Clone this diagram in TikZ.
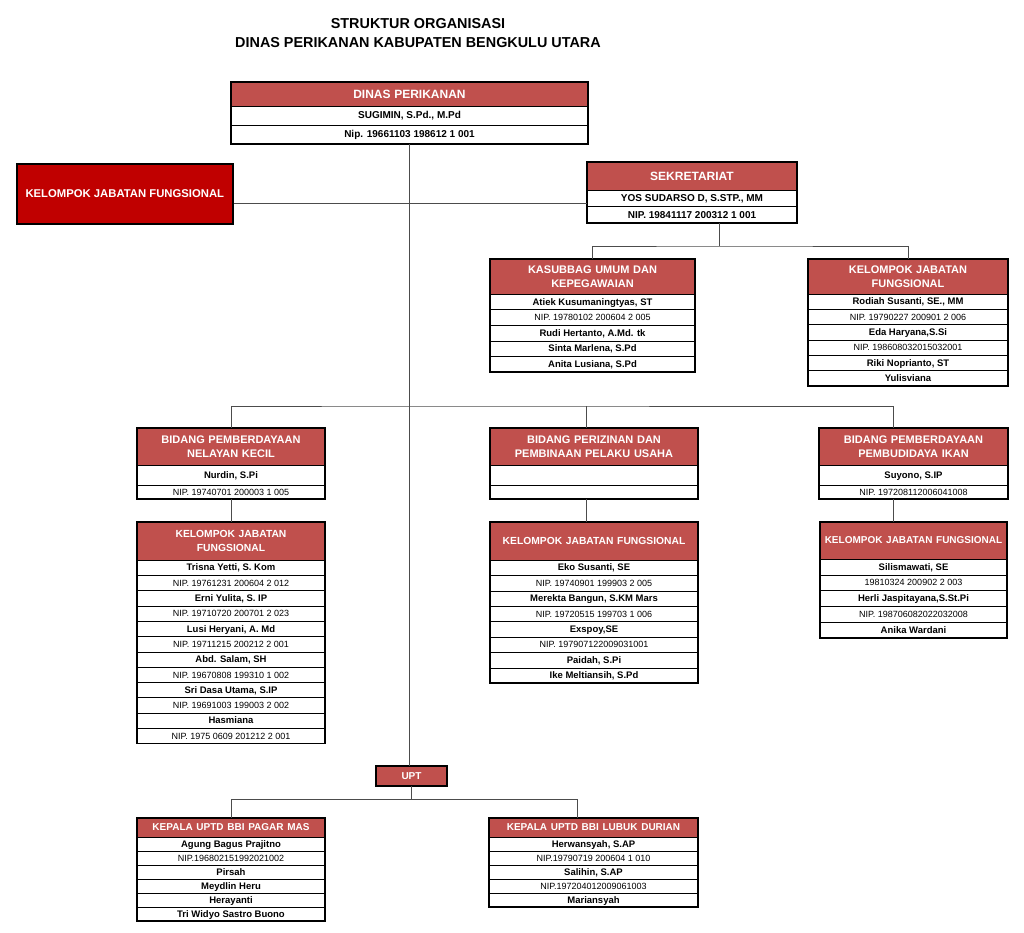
\documentclass[tikz,border=0pt]{standalone}
\usepackage{fontspec}
\setmainfont{Liberation Sans}
\usetikzlibrary{positioning}

\definecolor{headred}{RGB}{192,80,77}
\definecolor{fungred}{RGB}{192,0,0}

\tikzset{
    head/.style={draw, line width=1pt, fill=headred, text=white, align=center,
        inner sep=0pt, outer sep=0pt, font=\fontsize{11}{14}\selectfont\bfseries},
    row/.style={draw, line width=0.6pt, fill=white, inner sep=0pt, outer sep=0pt,
        minimum height=\rowh, text height=7pt, text depth=0.5pt},
    nm/.style={row, font=\fontsize{9.5}{11}\selectfont\bfseries},
    np/.style={row, font=\fontsize{9}{11}\selectfont},
    tp/.style={row, font=\fontsize{10}{12}\selectfont\bfseries},
    nmt/.style={nm, minimum height=20pt},
    nps/.style={np, minimum height=14pt},
    outline/.style={line width=1.6pt},
    link/.style={line width=0.8pt, draw=black!70},
}

\newcommand{\hsz}[1]{\fontsize{#1}{14}\selectfont}
% table: name, corner, width, header height, row height, header, rows
\newcommand{\orgtable}[7]{%
    \def\rowh{#5pt}%
    \pgfmathsetmacro\tabtw{#3-4}%
    \node[head, anchor=north west, minimum width=#3pt, minimum height=#4pt,
        text width=\tabtw pt] (#1) at (#2) {#6};
    \xdef\prevrow{#1}%
    \foreach \rs/\rt [count=\i] in {#7} {
        \node[\rs, minimum width=#3pt, below=0pt of \prevrow] (#1-\i) {\rt};
        \xdef\prevrow{#1-\i}
    }
    \draw[outline] (#1.north west) rectangle (\prevrow.south east);
}

\begin{document}
\begin{tikzpicture}[x=1pt, y=-1pt]
    \useasboundingbox (0,0) rectangle (1024,932);
    % title
    \node[font=\fontsize{14.4}{19}\selectfont\bfseries, align=center] (title) at (418,33.5)
        {STRUKTUR ORGANISASI\\DINAS PERIKANAN KABUPATEN BENGKULU UTARA};

    % kepala dinas
    \orgtable{dinas}{231,82}{357}{24}{19}{\hsz{12}DINAS PERIKANAN}{tp/{SUGIMIN, S.Pd., M.Pd},
        tp/{Nip. 19661103 198612 1 001}}
    \node[draw, line width=1.6pt, fill=fungred, text=white, anchor=north west,
        minimum width=216pt, minimum height=60pt, font=\fontsize{11.3}{14}\selectfont\bfseries]
        (kjf) at (16,163) {KELOMPOK JABATAN FUNGSIONAL};

    % sekretariat
    \orgtable{sekre}{587,162}{210}{28}{16.5}{\hsz{12}SEKRETARIAT}{tp/{YOS SUDARSO D, S.STP., MM},
        tp/{NIP. 19841117 200312 1 001}}
    \orgtable{umum}{490,259}{205}{35}{15.6}{KASUBBAG UMUM DAN\\KEPEGAWAIAN}{nm/{Atiek Kusumaningtyas, ST},
        np/{NIP. 19780102 200604 2 005},
        nm/{Rudi Hertanto, A.Md. tk},
        nm/{Sinta Marlena, S.Pd},
        nm/{Anita Lusiana, S.Pd}}
    \orgtable{kjfsek}{808,259}{200}{35}{15.3}{KELOMPOK JABATAN\\FUNGSIONAL}{nm/{Rodiah Susanti, SE., MM},
        np/{NIP. 19790227 200901 2 006},
        nm/{Eda Haryana,S.Si},
        np/{NIP. 198608032015032001},
        nm/{Riki Noprianto, ST},
        nm/{Yulisviana}}

    % bidang
    \orgtable{nelayan}{137,428}{188}{37}{15}{BIDANG PEMBERDAYAAN\\NELAYAN KECIL}{nmt/{Nurdin, S.Pi},
        nps/{NIP. 19740701 200003 1 005}}
    \orgtable{izin}{490,428}{208}{37}{15}{BIDANG PERIZINAN DAN\\PEMBINAAN PELAKU USAHA}{nmt/{},
        nps/{}}
    \orgtable{budidaya}{819,428}{189}{37}{15}{BIDANG PEMBERDAYAAN\\PEMBUDIDAYA IKAN}{nmt/{Suyono, S.IP},
        nps/{NIP. 197208112006041008}}

    % kelompok jabatan fungsional per bidang
    \orgtable{kjf1}{137,522}{188}{38}{15.3}{\hsz{10.3}KELOMPOK JABATAN\\FUNGSIONAL}{nm/{Trisna Yetti, S. Kom},
        np/{NIP. 19761231 200604 2 012},
        nm/{Erni Yulita, S. IP},
        np/{NIP. 19710720 200701 2 023},
        nm/{Lusi Heryani, A. Md},
        np/{NIP. 19711215 200212 2 001},
        nm/{Abd. Salam, SH},
        np/{NIP. 19670808 199310 1 002},
        nm/{Sri Dasa Utama, S.IP},
        np/{NIP. 19691003 199003 2 002},
        nm/{Hasmiana},
        np/{NIP. 1975 0609 201212 2 001}}
    \orgtable{kjf2}{490,522}{208}{38}{15.4}{\hsz{10.3}KELOMPOK JABATAN FUNGSIONAL}{nm/{Eko Susanti, SE},
        np/{NIP. 19740901 199903 2 005},
        nm/{Merekta Bangun, S.KM Mars},
        np/{NIP. 19720515 199703 1 006},
        nm/{Exspoy,SE},
        np/{NIP. 197907122009031001},
        nm/{Paidah, S.Pi},
        nm/{Ike Meltiansih, S.Pd}}
    \orgtable{kjf3}{820,522}{187}{37}{15.8}{\hsz{10}KELOMPOK JABATAN FUNGSIONAL}{nm/{Silismawati, SE},
        np/{19810324 200902 2 003},
        nm/{Herli Jaspitayana,S.St.Pi},
        np/{NIP. 198706082022032008},
        nm/{Anika Wardani}}

    % upt
    \node[head, line width=1.6pt, anchor=north west, minimum width=71pt, minimum height=20pt,
        font=\fontsize{10}{12}\selectfont\bfseries] (upt) at (376,766) {UPT};
    \orgtable{pagar}{137,818}{188}{19}{14}{\hsz{10}KEPALA UPTD BBI PAGAR MAS}{nm/{Agung Bagus Prajitno},
        np/{NIP.196802151992021002},
        nm/{Pirsah},
        nm/{Meydlin Heru},
        nm/{Herayanti},
        nm/{Tri Widyo Sastro Buono}}
    \orgtable{lubuk}{489,818}{209}{19}{14}{\hsz{10}KEPALA UPTD BBI LUBUK DURIAN}{nm/{Herwansyah, S.AP},
        np/{NIP.19790719 200604 1 010},
        nm/{Salihin, S.AP},
        np/{NIP.197204012009061003},
        nm/{Mariansyah}}

    % connectors
    \coordinate (sekbus) at (719,246);
    \coordinate (bidbus) at (410,406);
    \coordinate (uptbus) at (410,799);
    \coordinate (kjfy) at (0,203);
    \coordinate (izinx) at (586,0);
    \coordinate (budx) at (893,0);
    \coordinate (lubukx) at (577,0);
    \draw[link] (dinas-2.south) -- (dinas-2.south |- upt.north);
    \draw[link] (kjf.east |- kjfy) -- (sekre.west |- kjfy);
    \draw[link] (sekre-2.south -| sekbus) -- (sekbus);
    \draw[link] (umum.north) |- (sekbus) -| (kjfsek.north);
    \draw[link] (nelayan.north) |- (bidbus) -| (budidaya.north -| budx);
    \draw[link] (izin.north -| izinx) -- (izinx |- bidbus);
    \draw[link] (nelayan-2.south) -- (kjf1.north);
    \draw[link] (izin-2.south -| izinx) -- (kjf2.north -| izinx);
    \draw[link] (budidaya-2.south -| budx) -- (kjf3.north -| budx);
    \draw[link] (upt.south) -- (upt.south |- uptbus);
    \draw[link] (pagar.north) |- (uptbus) -| (lubuk.north -| lubukx);
\end{tikzpicture}
\end{document}
